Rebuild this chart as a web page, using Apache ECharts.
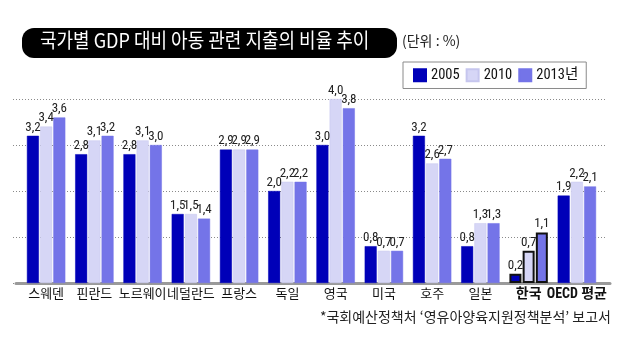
<!DOCTYPE html>
<html>
<head>
<meta charset="utf-8">
<script src="https://cdn.jsdelivr.net/npm/echarts@6/dist/echarts.min.js"></script>
<style>
  html, body { margin: 0; padding: 0; background: #fff; }
  #chart { width: 625px; height: 337px; }
</style>
</head>
<body>
<div id="chart"></div>
<script>
// 국가별 GDP 대비 아동 관련 지출 비율 (%)
const countries = ['스웨덴', '핀란드', '노르웨이', '네덜란드', '프랑스', '독일', '영국', '미국', '호주', '일본', '한국', 'OECD 평균'];
const years = ['2005', '2010', '2013년'];
const values2005 = [3.2, 2.8, 2.8, 1.5, 2.9, 2.0, 3.0, 0.8, 3.2, 0.8, 0.2, 1.9];
const values2010 = [3.4, 3.1, 3.1, 1.5, 2.9, 2.2, 4.0, 0.7, 2.6, 1.3, 0.7, 2.2];
const values2013 = [3.6, 3.2, 3.0, 1.4, 2.9, 2.2, 3.8, 0.7, 2.7, 1.3, 1.1, 2.1];
const yTicks = [0, 1, 2, 3, 4];

const colors = ['#0000B8', '#D6D6F6', '#7474E8'];
const highlight = ['한국', 'OECD 평균'];
const narrow = "'Roboto Condensed', 'Noto Sans CJK KR', sans-serif";
const kr = "'Noto Sans CJK KR', sans-serif";

function seriesData(vals) {
  return vals.map((v, i) => {
    if (countries[i] === '한국') {
      return { value: v, itemStyle: { borderColor: '#111', borderWidth: 2 } };
    }
    return v;
  });
}

const chart = echarts.init(document.getElementById('chart'), null, { renderer: 'canvas' });

const gridTop = 99, gridBottom = 54;
const hiddenValueAxis = (gi) => ({
  gridIndex: gi, type: 'value', min: 0, max: 1,
  axisLine: { show: false }, axisTick: { show: false }, axisLabel: { show: false }, splitLine: { show: false }
});

const option = {
  animation: false,
  backgroundColor: '#fff',
  textStyle: { fontFamily: kr },
  grid: [
    { left: 13, right: 20, top: gridTop, bottom: gridBottom },   // dotted guides
    { left: 22, right: 24, top: gridTop, bottom: gridBottom },   // bars
    { left: 16, right: 15, top: gridTop, bottom: gridBottom }    // base line
  ],
  xAxis: [
    hiddenValueAxis(0),
    {
      gridIndex: 1, type: 'category', data: countries,
      axisLine: { show: false }, axisTick: { show: false },
      axisLabel: {
        interval: 0, margin: 5, color: '#111', fontSize: 13, fontFamily: narrow,
        formatter: (v) => highlight.includes(v) ? '{b|' + v + '}' : v,
        rich: { b: { fontWeight: 'bold', fontSize: 14, fontFamily: narrow, color: '#111' } }
      }
    },
    {
      gridIndex: 2, type: 'value', min: 0, max: 1,
      axisLine: { show: true, onZero: false, lineStyle: { color: '#9a9a9a', width: 3 } },
      axisTick: { show: false }, axisLabel: { show: false }, splitLine: { show: false }
    }
  ],
  yAxis: [
    {
      gridIndex: 0, type: 'value', min: yTicks[0], max: yTicks[yTicks.length - 1], interval: 1,
      axisLine: { show: false }, axisTick: { show: false }, axisLabel: { show: false },
      splitLine: { show: true, lineStyle: { color: '#8a8a8a', type: [1, 2], width: 1 } }
    },
    {
      gridIndex: 1, type: 'value', min: yTicks[0], max: yTicks[yTicks.length - 1], interval: 1,
      axisLine: { show: false }, axisTick: { show: false }, axisLabel: { show: false },
      splitLine: { show: false }
    },
    hiddenValueAxis(2)
  ],
  legend: {
    data: years,
    left: 403, top: 62,
    orient: 'horizontal',
    padding: [6, 8, 6, 10],
    itemGap: 6,
    itemWidth: 12, itemHeight: 12,
    borderColor: '#8a8a8a', borderWidth: 1,
    icon: 'rect',
    textStyle: { fontSize: 14.5, color: '#111', fontFamily: narrow }
  },
  series: [values2005, values2010, values2013].map((vals, k) => ({
    name: years[k],
    type: 'bar',
    xAxisIndex: 1, yAxisIndex: 1,
    barWidth: 12,
    barGap: '10%',
    itemStyle: { color: colors[k], borderColor: k === 1 ? '#c6c6ee' : colors[k], borderWidth: 0.5 },
    label: {
      show: true, position: 'top', distance: 2,
      color: '#222', fontSize: 13, fontFamily: narrow,
      formatter: (p) => p.value.toFixed(1).replace('.', ',')
    },
    data: seriesData(vals)
  })),
  graphic: [
    {
      type: 'rect', x: 22, y: 28,
      shape: { width: 375, height: 30, r: 12 },
      style: { fill: '#000' }
    },
    {
      type: 'text', x: 40, y: 30, scaleX: 0.9, originX: 0, originY: 0,
      style: { text: '국가별 GDP 대비 아동 관련 지출의 비율 추이', fill: '#fff', font: '20px ' + kr }
    },
    {
      type: 'text', x: 402, y: 34,
      style: { text: '(단위 : %)', fill: '#222', font: '14px ' + kr }
    },
    {
      type: 'text', right: 14, top: 310,
      style: { text: '*국회예산정책처 ‘영유아양육지원정책분석’ 보고서', fill: '#222', font: '14px ' + kr }
    }
  ]
};

chart.setOption(option);
</script>
</body>
</html>
